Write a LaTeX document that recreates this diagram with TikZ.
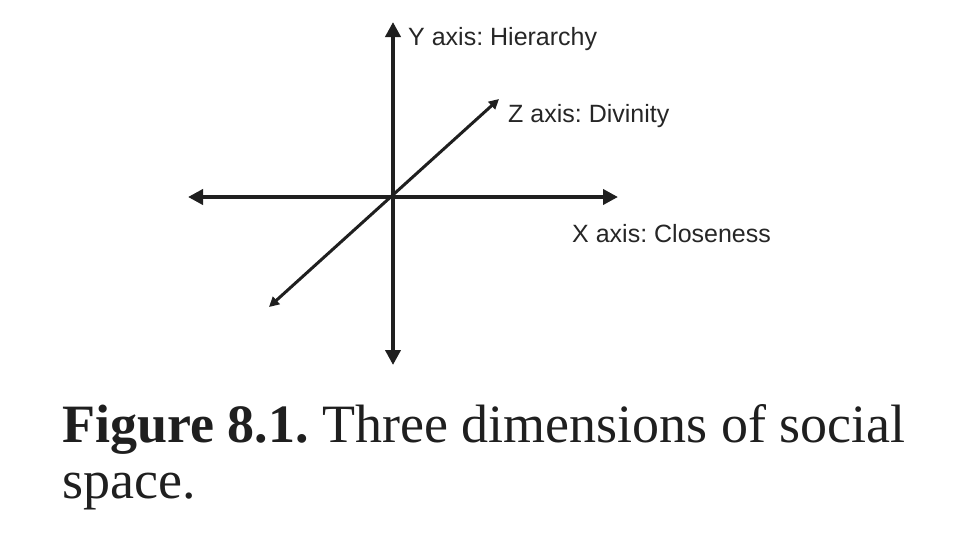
\documentclass[tikz,border=0pt]{standalone}
\usepackage{fontspec}
\setmainfont{Liberation Serif}
\newfontfamily\labelfont{Liberation Sans}
\usepackage{tikz}
\usetikzlibrary{positioning, arrows.meta}

\begin{document}
\frenchspacing
\begin{tikzpicture}[x=1pt, y=-1pt,
  axis/.style={line width=4pt, color=black!88, {Triangle[length=15pt,width=15pt]}-{Triangle[length=15pt,width=15pt]}},
  zaxis/.style={line width=3pt, color=black!88, {Triangle[length=10pt,width=10pt]}-{Triangle[length=10pt,width=10pt]}},
  lbl/.style={font=\labelfont\fontsize{25}{30}\selectfont, text=black!85, inner sep=0pt, anchor=base west},
  caption/.style={font=\fontsize{54}{56}\selectfont, text=black!88, inner sep=0pt, anchor=base west, align=left}
]
\useasboundingbox (0,0) rectangle (960,536);
% axis ends
\coordinate (o) at (393,197);
\coordinate (xl) at (188,197);
\coordinate (xr) at (618,197);
\coordinate (yt) at (393,22);
\coordinate (yb) at (393,365);
\coordinate (zl) at (269,307);
\coordinate (zr) at (499,99);
\draw[axis] (xl) -- (xr);
\draw[axis] (yb) -- (yt);
\draw[zaxis] (zl) -- (zr);
% labels
\node[lbl] (ylab) at (408,45) {Y axis: Hierarchy};
\node[lbl] (zlab) at (508,122) {Z axis: Divinity};
\node[lbl] (xlab) at (572,242) {X axis: Closeness};
\node[caption] (cap) at (62,498) {\textbf{Figure 8.1.} Three dimensions of social\\space.};
\end{tikzpicture}
\end{document}
